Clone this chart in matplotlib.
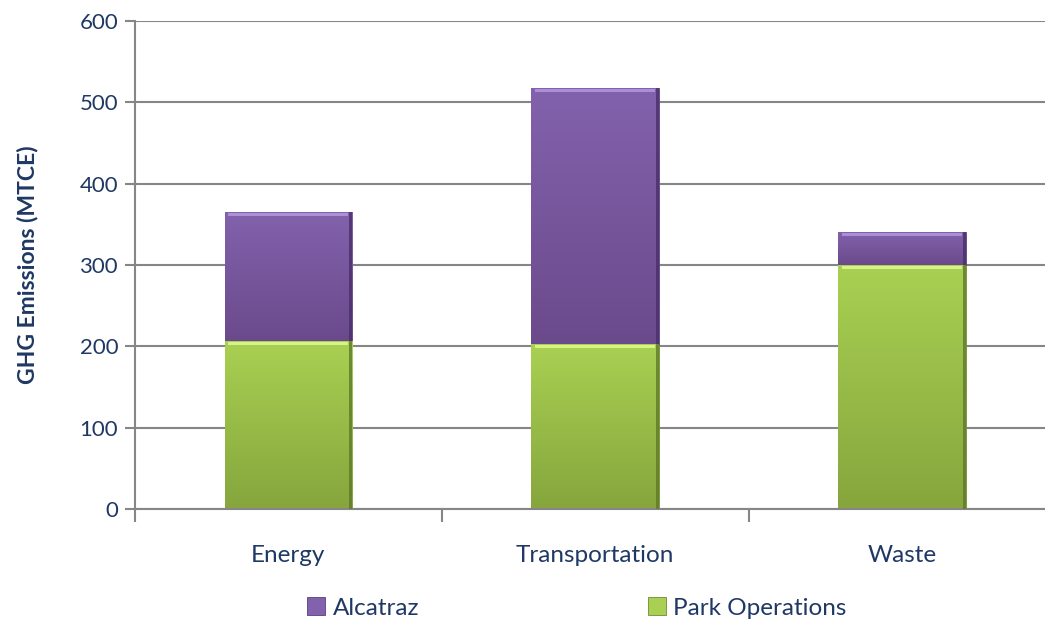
import matplotlib.pyplot as plt
import matplotlib.colors as mcolors
import numpy as np

plt.rcParams['font.family'] = ['Lato', 'DejaVu Sans']

categories = ['Energy', 'Transportation', 'Waste']
park_operations = [207, 203, 300]
alcatraz = [158, 315, 41]
series_names = ['Alcatraz', 'Park Operations']

text_color = '#1F3864'
grid_color = '#868686'
purple_top, purple_bot, purple_rim = '#8262AC', '#6B4A8C', '#B195DA'
green_top, green_bot, green_rim = '#A9D052', '#86A63D', '#DDF88E'


def shade(ax, bars, top_c, bot_c, rim_c, edge_c):
    # soft vertical gradient plus a light rim on top and a dark right edge
    t = np.linspace(0, 1, 64)[:, None]
    lo, hi = np.array(mcolors.to_rgb(bot_c)), np.array(mcolors.to_rgb(top_c))
    grad = lo + (hi - lo) * t
    grad = np.repeat(grad[:, None, :], 8, axis=1)
    for b in bars:
        x0, y0 = b.get_x(), b.get_y()
        w, h = b.get_width(), b.get_height()
        im = ax.imshow(grad, extent=[x0, x0 + w, y0, y0 + h], origin='lower',
                       aspect='auto', zorder=2.5, interpolation='bilinear')
        im.set_clip_path(b)
        ax.bar(x0 + w / 2, 3.5, w * 0.94, bottom=y0 + h - 5,
               color=rim_c, zorder=2.6, linewidth=0, alpha=0.9)
        ax.bar(x0 + w * 0.99, h, w * 0.02, bottom=y0,
               color=edge_c, zorder=2.6, linewidth=0, alpha=0.8)


fig = plt.figure(figsize=(10.45, 6.28), dpi=100)
ax = fig.add_axes([0.129, 0.1895, 0.881, 0.777])

x = np.arange(len(categories))
w = 0.415
b1 = ax.bar(x, park_operations, w, color=green_top, edgecolor='#6E8C30',
            linewidth=0.6, zorder=2, label=series_names[1])
b2 = ax.bar(x, alcatraz, w, bottom=park_operations, color=purple_top,
            edgecolor='#5A3F80', linewidth=0.6, zorder=2, label=series_names[0])
shade(ax, b1, green_top, green_bot, green_rim, '#5E7A28')
shade(ax, b2, purple_top, purple_bot, purple_rim, '#4A2F6A')

ax.set_xlim(-0.5, 2.5)
ax.set_ylim(0, 600)
ax.set_yticks(range(0, 601, 100))
ax.yaxis.grid(True, color=grid_color, linewidth=1.5, zorder=0)
ax.set_axisbelow(True)

ax.set_xticks(x)
ax.set_xticklabels(categories, fontsize=17.5, color=text_color)
ax.set_xticks([-0.5, 0.5, 1.5, 2.5], minor=True)
ax.tick_params(axis='x', which='major', length=0, pad=26)
ax.tick_params(axis='x', which='minor', length=9, width=1.5, color=grid_color)
ax.tick_params(axis='y', length=7, width=1.5, color=grid_color,
               labelsize=16, labelcolor=text_color, pad=5)

for s in ['top', 'right']:
    ax.spines[s].set_visible(False)
for s in ['left', 'bottom']:
    ax.spines[s].set_color(grid_color)
    ax.spines[s].set_linewidth(1.5)

ax.set_ylabel('GHG Emissions (MTCE)', fontsize=16.5, fontweight='bold',
              color=text_color)
ax.yaxis.set_label_coords(-0.105, 0.5)

handles = [b2, b1]
leg = fig.legend(handles, series_names, loc='center', ncol=2,
                 bbox_to_anchor=(0.552, 0.032), frameon=False, fontsize=17.5,
                 handlelength=0.74, handleheight=0.74, handletextpad=0.3,
                 columnspacing=9.4, labelcolor=text_color)

fig.savefig('out.png', dpi=100)
